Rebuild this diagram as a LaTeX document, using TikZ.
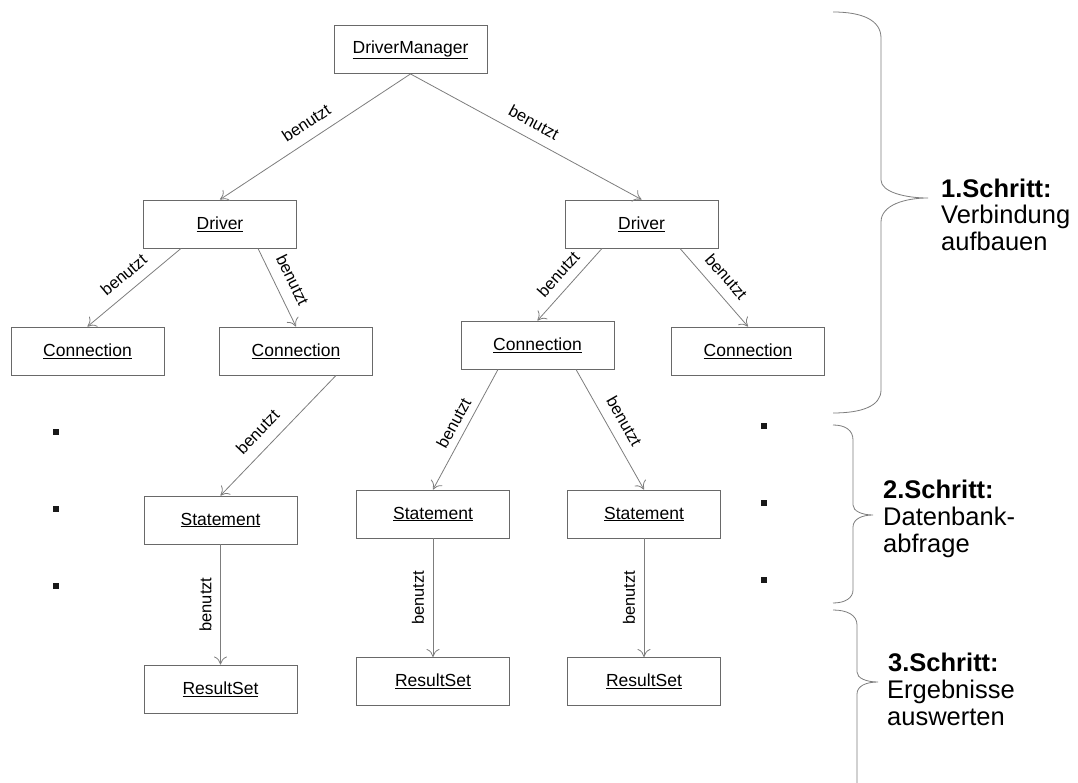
\documentclass[tikz,border=0pt]{standalone}
\usepackage{fontspec}
\setmainfont{Liberation Sans}
\usetikzlibrary{arrows.meta,calc}
\definecolor{linegray}{RGB}{125,125,125}
\definecolor{boxgray}{RGB}{105,105,105}
\begin{document}
\begin{tikzpicture}[x=1pt,y=-1pt,
  cls/.style={draw=boxgray, line width=0.9pt, minimum width=153pt, minimum height=48pt, inner sep=0pt, font=\fontsize{17.5}{19}\selectfont, text=black},
  uses/.style={draw=linegray, line width=0.8pt, -{Computer Modern Rightarrow[length=8pt,width=13pt]}},
  lbl/.style={font=\fontsize{16.5}{18}\selectfont, sloped, inner sep=1pt},
  vlbl/.style={font=\fontsize{16.5}{18}\selectfont, rotate=90, anchor=south, inner sep=1pt, outer sep=8pt},
  dot/.style={fill=black!90, minimum size=6pt, inner sep=0pt},
  brace/.style={draw=linegray, line width=0.8pt},
  steptext/.style={font=\fontsize{25.5}{28}\selectfont, anchor=base west, inner sep=0pt}
]
\useasboundingbox (0,0) rectangle (1078,783);

% classes
\node[cls] (dm)   at (410.5,49.5) {\underline{DriverManager}};
\node[cls] (drvL) at (220,224)    {\underline{Driver}};
\node[cls] (drvR) at (641.5,224)  {\underline{Driver}};
\node[cls] (con1) at (87.5,351)   {\underline{Connection}};
\node[cls] (con2) at (296,351)    {\underline{Connection}};
\node[cls] (con3) at (537.5,345)  {\underline{Connection}};
\node[cls] (con4) at (748,351)    {\underline{Connection}};
\node[cls] (stL)  at (220.5,520)  {\underline{Statement}};
\node[cls] (stM)  at (433,514)    {\underline{Statement}};
\node[cls] (stR)  at (644,514)    {\underline{Statement}};
\node[cls] (rsL)  at (220.5,689)  {\underline{ResultSet}};
\node[cls] (rsM)  at (433,681.5)  {\underline{ResultSet}};
\node[cls] (rsR)  at (644,681.5)  {\underline{ResultSet}};

% connectors
\draw[uses] (dm.south) -- node[lbl, above=9pt] {benutzt} (drvL.north);
\draw[uses] (dm.south) -- node[lbl, above=9pt] {benutzt} (drvR.north);
\draw[uses] ($(drvL.south)+(-39,0)$) -- node[lbl, above=9pt] {benutzt} (con1.north);
\draw[uses] ($(drvL.south)+(38,0)$) -- node[lbl, above=10pt] {benutzt} (con2.north);
\draw[uses] ($(drvR.south)+(-39.5,0)$) -- node[lbl, above=8pt] {benutzt} (con3.north);
\draw[uses] ($(drvR.south)+(38.5,0)$) -- node[lbl, above=9pt] {benutzt} (con4.north);
\draw[uses] ($(con2.south)+(40,0)$) -- node[lbl, above=10pt, pos=0.57] {benutzt} (stL.north);
\draw[uses] ($(con3.south)+(-39.5,0)$) -- node[lbl, above=6pt] {benutzt} (stM.north);
\draw[uses] ($(con3.south)+(38.5,0)$) -- node[lbl, above=9pt] {benutzt} (stR.north);
\draw[uses] (stL.south) -- node[vlbl] {benutzt} (rsL.north);
\draw[uses] (stM.south) -- node[vlbl] {benutzt} (rsM.north);
\draw[uses] (stR.south) -- node[vlbl] {benutzt} (rsR.north);

% dots
\node[dot] (dl1) at (56,432) {};
\node[dot] (dl2) at (56,509) {};
\node[dot] (dl3) at (56,586) {};
\node[dot] (dr1) at (764,426) {};
\node[dot] (dr2) at (764,503) {};
\node[dot] (dr3) at (764,580) {};

% braces
\draw[brace] (833,12) .. controls (862,12) and (881,20) .. (881,38) -- (881,180)
  .. controls (881,192) and (905,198) .. (928,198)
  .. controls (905,198) and (881,205) .. (881,222) -- (881,390)
  .. controls (881,406) and (862,413) .. (833,413);
\draw[brace] (833,425) .. controls (845,425) and (853,430) .. (853,440) -- (853,505)
  .. controls (853,511) and (862,515) .. (873,515)
  .. controls (862,515) and (853,519) .. (853,527) -- (853,590)
  .. controls (853,598) and (845,603) .. (833,603);
\begin{scope}
\clip (0,0) rectangle (1078,783);
\draw[brace] (833,610) .. controls (847,610) and (857,615) .. (857,625) -- (857,672)
  .. controls (857,678) and (866,682) .. (878,682)
  .. controls (866,682) and (857,686) .. (857,694) -- (857,800);
\end{scope}

% step texts
\node[steptext] (s1a) at (941,198) {\textbf{1.Schritt:}};
\node[steptext] (s1b) at (941,224) {Verbindung};
\node[steptext] (s1c) at (941,251) {aufbauen};
\node[steptext] (s2a) at (883,498) {\textbf{2.Schritt:}};
\node[steptext] (s2b) at (883,525) {Datenbank-};
\node[steptext] (s2c) at (883,552) {abfrage};
\node[steptext] (s3a) at (888,671) {\textbf{3.Schritt:}};
\node[steptext] (s3b) at (887,698) {Ergebnisse};
\node[steptext] (s3c) at (887,725) {auswerten};
\end{tikzpicture}
\end{document}
